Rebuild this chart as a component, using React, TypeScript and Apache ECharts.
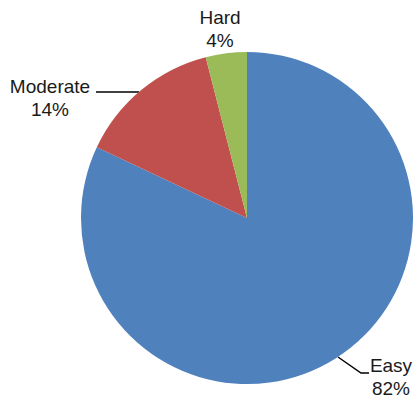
import React, { useEffect, useRef } from "react";
import * as echarts from "echarts";

const categories = ["Easy", "Moderate", "Hard"];
const values = [82, 14, 4];
const colors = ["#4F81BD", "#C0504D", "#9BBB59"];

export default function App() {
  const ref = useRef<HTMLDivElement>(null);
  useEffect(() => {
    if (!ref.current) return;
    const chart = echarts.init(ref.current, undefined, { renderer: "svg" });
    const labelPos: any[] = [
      { x: 391, y: 377, line: [[338, 357], [361, 373], [369, 373]] },
      { x: 50, y: 98, line: [[139, 92], [118, 92], [96, 92]] },
      { x: 220, y: 29, line: null },
    ];
    chart.setOption({
      animation: false,
      backgroundColor: "#fff",
      series: [
        {
          type: "pie",
          center: [247, 218],
          radius: 166,
          startAngle: 90,
          clockwise: true,
          avoidLabelOverlap: false,
          data: categories.map((c, i) => ({
            name: c,
            value: values[i],
            itemStyle: { color: colors[i] },
            labelLine: { show: i !== 2 },
          })),
          label: {
            show: true,
            position: "outside",
            formatter: "{b}\n{c}%",
            fontFamily: "Liberation Sans",
            fontSize: 19,
            lineHeight: 23,
            color: "#1a1a1a",
            align: "center",
          },
          labelLine: {
            show: true,
            lineStyle: { color: "#000", width: 1.5 },
          },
          labelLayout: (params: any) => {
            const p = labelPos[params.dataIndex];
            const r: any = {
              x: p.x,
              y: p.y,
              align: "center",
              verticalAlign: "middle",
            };
            if (p.line) r.labelLinePoints = p.line;
            return r;
          },
        },
      ],
    });
    return () => chart.dispose();
  }, []);
  return <div ref={ref} style={{ width: 413, height: 405, position: "absolute", left: 0, top: 0 }} />;
}
